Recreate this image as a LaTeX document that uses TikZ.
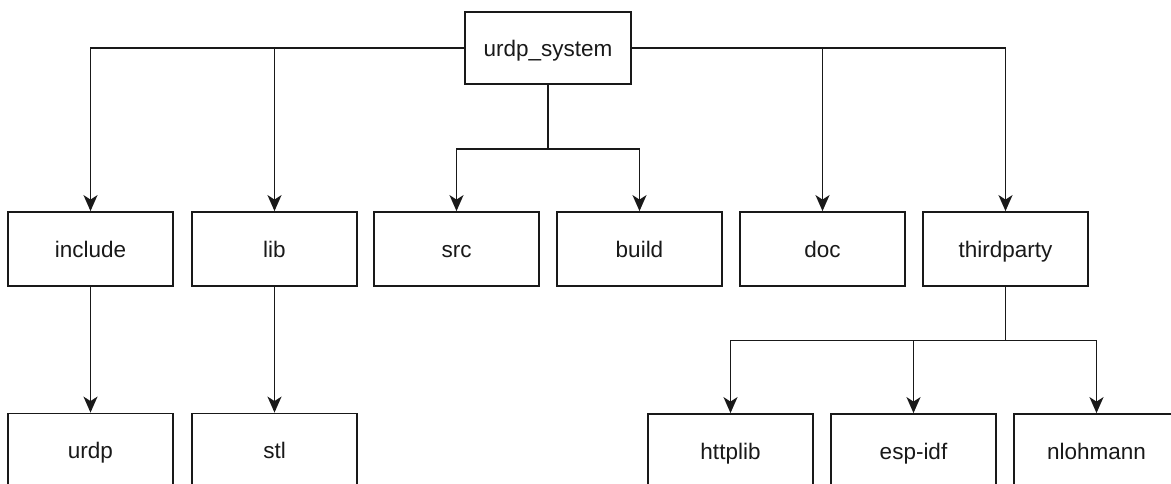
\documentclass[tikz,border=0pt]{standalone}
\usepackage{fontspec}
\setmainfont{Liberation Sans}
\usetikzlibrary{arrows.meta}
\begin{document}
\begin{tikzpicture}[x=1pt,y=-1pt,
  box/.style={draw=black!90, line width=1.8pt, fill=white, minimum width=165pt, minimum height=74pt,
    inner sep=0pt, text height=21pt, text depth=5pt, font=\fontsize{22.5}{27}\selectfont, text=black!90},
  conn/.style={draw=black!90, line width=1.8pt},
  arr/.style={conn, -{Stealth[length=16pt,width=14pt,inset=4.5pt]}}]
\useasboundingbox (0,0) rectangle (1171,483);
\clip (0,0) rectangle (1171,483);
\node[box, minimum width=166pt, minimum height=72pt] (root) at (548,48) {urdp\_system};
\node[box] (include) at (90.5,249) {include};
\node[box] (lib) at (274.5,249) {lib};
\node[box] (src) at (456.5,249) {src};
\node[box] (build) at (639.5,249) {build};
\node[box] (doc) at (822.5,249) {doc};
\node[box] (thirdparty) at (1005.5,249) {thirdparty};
\node[box] (urdp) at (90.5,450.5) {urdp};
\node[box] (stl) at (274.5,450.5) {stl};
\node[box] (httplib) at (730.5,451) {httplib};
\node[box] (espidf) at (913.5,451) {esp-idf};
\node[box] (nlohmann) at (1096.5,451) {nlohmann};
\coordinate (j1) at (548,149);
\coordinate (j2) at (1005.5,340.5);
\draw[arr] (root.west) -| (include.north);
\draw[arr] (root.west) -| (lib.north);
\draw[arr] (root.east) -| (doc.north);
\draw[arr] (root.east) -| (thirdparty.north);
\draw[conn] (root.south) -- (j1);
\draw[arr] (j1) -| (src.north);
\draw[arr] (j1) -| (build.north);
\draw[arr] (include.south) -- (urdp.north);
\draw[arr] (lib.south) -- (stl.north);
\draw[conn] (thirdparty.south) -- (j2);
\draw[arr] (j2) -| (httplib.north);
\draw[arr] (j2) -| (espidf.north);
\draw[arr] (j2) -| (nlohmann.north);
\end{tikzpicture}
\end{document}
